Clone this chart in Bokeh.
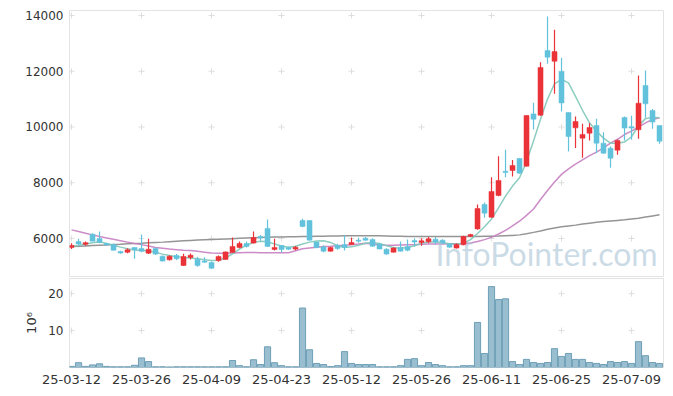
from bokeh.plotting import figure
from bokeh.layouts import column
from bokeh.models import Range1d, FixedTicker, Label, ColumnDataSource
from bokeh.core.properties import value
from bokeh.embed import file_html
from bokeh.resources import INLINE

# ---------------- data ----------------
dates = [
    "25-03-12", "25-03-13", "25-03-14", "25-03-17", "25-03-18", "25-03-19", "25-03-20", "25-03-21",
    "25-03-24", "25-03-25", "25-03-26", "25-03-27", "25-03-28", "25-03-31",
    "25-04-01", "25-04-02", "25-04-03", "25-04-04", "25-04-07", "25-04-08", "25-04-09", "25-04-10",
    "25-04-11", "25-04-14", "25-04-15", "25-04-16", "25-04-17", "25-04-18", "25-04-21", "25-04-22",
    "25-04-23", "25-04-24", "25-04-25", "25-04-28", "25-04-29", "25-04-30",
    "25-05-02", "25-05-07", "25-05-08", "25-05-09", "25-05-12", "25-05-13", "25-05-14", "25-05-15",
    "25-05-16", "25-05-19", "25-05-20", "25-05-21", "25-05-22", "25-05-23", "25-05-26", "25-05-27",
    "25-05-28", "25-05-29", "25-05-30",
    "25-06-02", "25-06-04", "25-06-05", "25-06-09", "25-06-10", "25-06-11", "25-06-12", "25-06-13",
    "25-06-16", "25-06-17", "25-06-18", "25-06-19", "25-06-20", "25-06-23", "25-06-24", "25-06-25",
    "25-06-26", "25-06-27", "25-06-30",
    "25-07-01", "25-07-02", "25-07-03", "25-07-04", "25-07-07", "25-07-08", "25-07-09", "25-07-10",
    "25-07-11", "25-07-14", "25-07-15",
]

open_ = [5680, 5890, 5790, 6150, 6000, 5820, 5785, 5535, 5510, 5680,
         5640, 5475, 5640, 5365, 5235, 5390, 5030, 5320, 5260, 5190,
         5140, 5210, 5250, 5500, 5680, 5820, 5835, 6070, 6360, 5605,
         5750, 5680, 5620, 6645, 6645, 5870, 5700, 5545, 5750, 5775,
         5785, 5940, 6010, 5965, 5800, 5615, 5510, 5680, 5715, 5925,
         5856, 5880, 5975, 5940, 5795, 5655, 5772, 6085, 6345, 7220,
         6765, 7545, 8415, 8440, 8870, 8595, 10470, 10425, 12745, 12360,
         11990, 10520, 9970, 9600, 9780, 10055, 9420, 9240, 9170, 10340,
         10010, 9900, 11490, 10590, 10055]
close = [5750, 5800, 5850, 5905, 5860, 5770, 5580, 5480, 5595, 5595,
         5545, 5615, 5440, 5190, 5365, 5270, 5355, 5400, 5030, 5150,
         4935, 5355, 5520, 5715, 5820, 5715, 6035, 6015, 5715, 5680,
         5605, 5615, 5690, 6430, 5940, 5680, 5545, 5680, 5640, 5680,
         5855, 5905, 5940, 5725, 5620, 5440, 5655, 5545, 5580, 5870,
         5916, 5988, 5870, 5830, 5690, 5785, 6072, 6140, 7075, 6910,
         7685, 8080, 8370, 8620, 8345, 10410, 10280, 12135, 12505, 12705,
         10865, 9660, 10195, 9730, 9980, 9420, 9060, 8880, 9515, 9960,
         9960, 10855, 10830, 10175, 9490]
high = [5830, 5990, 5890, 6190, 6250, 5845, 5810, 5560, 5650, 5690,
        6140, 5990, 5680, 5390, 5400, 5440, 5450, 5460, 5340, 5330,
        5175, 5390, 5530, 6035, 5890, 5890, 6250, 6130, 6680, 5990,
        5770, 5700, 5730, 6705, 6650, 5870, 5750, 5700, 5810, 6130,
        6025, 6025, 6050, 6010, 5820, 5650, 5690, 5890, 5965, 6010,
        6000, 6050, 6050, 5975, 5830, 5820, 6095, 6170, 7220, 7290,
        8200, 8950, 9180, 8820, 8880, 10420, 10870, 12325, 13965, 13485,
        12480, 10520, 10375, 10115, 10135, 10295, 9815, 9300, 9550, 10375,
        10400, 11845, 12025, 10650, 10055]
low = [5620, 5750, 5740, 5900, 5830, 5750, 5570, 5450, 5470, 5270,
       5510, 5440, 5410, 5175, 5210, 5230, 5010, 5250, 4990, 5130,
       4910, 5170, 5240, 5485, 5650, 5680, 5820, 5920, 5700, 5570,
       5510, 5590, 5580, 6405, 5930, 5650, 5510, 5530, 5600, 5570,
       5785, 5845, 5915, 5700, 5610, 5415, 5500, 5530, 5545, 5710,
       5740, 5830, 5790, 5810, 5665, 5640, 5760, 6050, 6310, 6740,
       6740, 7520, 8200, 8225, 8320, 8580, 9910, 10400, 12265, 11190,
       10555, 9120, 9250, 8895, 9515, 9060, 9040, 8535, 9000, 9515,
       9540, 9575, 10330, 9935, 9395]

# volume, in millions of shares
volume = [0.3, 1.3, 0.3, 0.7, 1.0, 0.3, 0.2, 0.2, 0.2, 0.6,
          2.6, 1.6, 0.2, 0.2, 0.15, 0.2, 0.2, 0.2, 0.2, 0.2,
          0.2, 0.2, 0.2, 1.9, 0.5, 0.2, 2.1, 0.8, 5.6, 1.3,
          0.5, 0.2, 0.2, 16.1, 4.8, 1.1, 0.8, 0.25, 0.5, 4.3,
          1.1, 0.8, 0.8, 0.8, 0.2, 0.2, 0.2, 0.5, 2.2, 2.4,
          0.5, 1.35, 0.8, 0.5, 0.2, 0.2, 0.5, 0.5, 12.2, 3.8,
          21.9, 18.4, 18.6, 1.6, 0.8, 2.2, 1.35, 1.1, 1.35, 5.1,
          3.0, 3.8, 2.2, 2.2, 1.35, 1.1, 0.8, 1.6, 1.35, 1.6,
          1.1, 7.0, 3.2, 1.35, 1.1]

ma5 = [5710, 5750, 5800, 5850, 5880, 5820, 5760, 5690, 5630, 5590,
       5570, 5550, 5510, 5440, 5390, 5350, 5320, 5300, 5270, 5240,
       5210, 5220, 5300, 5450, 5620, 5760, 5860, 5900, 5880, 5800,
       5730, 5690, 5720, 5800, 5870, 5910, 5920, 5860, 5740, 5680,
       5700, 5760, 5830, 5860, 5820, 5740, 5680, 5650, 5680, 5740,
       5830, 5870, 5880, 5850, 5810, 5790, 5830, 5960, 6180, 6420,
       6700, 7100, 7520, 7880, 8180, 8750, 9500, 10280, 11000, 11550,
       11710, 11580, 11100, 10600, 10150, 9850, 9600, 9420, 9420, 9460,
       9650, 10050, 10300, 10350, 10330]
ma20 = [6310, 6250, 6190, 6130, 6070, 6020, 5970, 5920, 5870, 5820,
        5780, 5730, 5680, 5650, 5620, 5600, 5580, 5570, 5540, 5510,
        5480, 5470, 5470, 5480, 5490, 5500, 5500, 5490, 5490, 5490,
        5490, 5490, 5560, 5630, 5660, 5690, 5710, 5720, 5740, 5760,
        5780, 5800, 5830, 5800, 5770, 5760, 5760, 5770, 5780, 5780,
        5790, 5800, 5800, 5805, 5810, 5815, 5820, 5840, 5890, 5960,
        6040, 6160, 6290, 6450, 6620, 6830, 7060, 7400, 7720, 8030,
        8300, 8500, 8670, 8820, 8970, 9100, 9250, 9420, 9560, 9730,
        9850, 10000, 10150, 10270, 10330]
ma60 = [5710, 5720, 5735, 5750, 5760, 5770, 5785, 5795, 5810, 5820,
        5830, 5845, 5860, 5870, 5885, 5900, 5915, 5930, 5945, 5955,
        5965, 5975, 5985, 5995, 6005, 6015, 6025, 6035, 6045, 6050,
        6055, 6060, 6065, 6070, 6075, 6080, 6085, 6090, 6090, 6095,
        6095, 6100, 6100, 6100, 6095, 6090, 6085, 6080, 6075, 6075,
        6075, 6070, 6070, 6070, 6070, 6070, 6070, 6070, 6075, 6080,
        6085, 6090, 6100, 6110, 6130, 6170, 6220, 6270, 6330, 6380,
        6420, 6450, 6480, 6520, 6550, 6580, 6610, 6630, 6650, 6670,
        6700, 6730, 6770, 6810, 6850]

price_ticks = [6000, 8000, 10000, 12000, 14000]
volume_ticks = [10, 20]
date_tick_idx = [0, 10, 20, 30, 40, 50, 60, 70, 80]

# ---------------- styling ----------------
UP = "#ea3338"
DOWN = "#62c2dc"
FONT = "DejaVu Sans"
LABEL_COLOR = "#333333"
OUTLINE = "#e3e3e3"
CROSS = "#dedede"

n = len(close)
xs = list(range(n))
colors = [UP if c >= o else DOWN for o, c in zip(open_, close)]
src = ColumnDataSource(dict(
    x=xs, open=open_, close=close, high=high, low=low,
    top=[max(o, c) for o, c in zip(open_, close)],
    bottom=[min(o, c) for o, c in zip(open_, close)],
    color=colors, volume=volume, ma5=ma5, ma20=ma20, ma60=ma60,
))

x_range = Range1d(-0.29, 84.57)

p = figure(width=673, height=277, x_range=x_range, y_range=Range1d(4601, 14179),
           output_backend="svg", toolbar_location=None, x_axis_location=None,
           min_border_left=69, min_border_right=10, min_border_top=10, min_border_bottom=0)
p.xgrid.visible = False
p.ygrid.visible = False
p.outline_line_color = OUTLINE
p.background_fill_color = "white"
p.border_fill_color = "white"

# grid crosses at tick intersections
gx = [i for i in date_tick_idx for _ in price_ticks]
gy = [v for _ in date_tick_idx for v in price_ticks]
p.scatter(gx, gy, marker="cross", size=6, line_color=CROSS, line_width=1)

wm = Label(x=52.0, y=6150, text="InfoPointer.com", text_font="Lato", text_font_size="32px",
           text_color="#a9c4d6", text_alpha=0.6, text_baseline="top")
p.add_layout(wm)

p.line("x", "ma60", source=src, line_color="#8a8a8a", line_width=1.5, line_alpha=0.9)
p.line("x", "ma20", source=src, line_color="#c77fc1", line_width=1.5, line_alpha=0.9)
p.line("x", "ma5", source=src, line_color="#7fc8b9", line_width=1.5, line_alpha=0.9)

p.segment("x", "high", "x", "low", source=src, line_color="color", line_width=1.2)
p.vbar(x="x", width=0.72, top="top", bottom="bottom", source=src,
       fill_color="color", line_color="color", line_width=0.5)

p.yaxis.ticker = FixedTicker(ticks=price_ticks)
p.yaxis.axis_line_color = None
p.yaxis.major_tick_line_color = None
p.yaxis.minor_tick_line_color = None
p.yaxis.major_tick_out = 0
p.yaxis.major_label_standoff = 6
p.yaxis.major_label_text_font = FONT
p.yaxis.major_label_text_font_size = "12px"
p.yaxis.major_label_text_color = LABEL_COLOR

# ---------------- volume panel ----------------
v = figure(width=673, height=119, x_range=x_range, y_range=Range1d(0, 24.1),
           output_backend="svg", toolbar_location=None,
           min_border_left=69, min_border_right=10, min_border_top=1, min_border_bottom=29)
v.xgrid.visible = False
v.ygrid.visible = False
v.outline_line_color = OUTLINE
vgx = [i for i in date_tick_idx for _ in volume_ticks]
vgy = [t for _ in date_tick_idx for t in volume_ticks]
v.scatter(vgx, vgy, marker="cross", size=6, line_color=CROSS, line_width=1)
v.vbar(x="x", width=0.88, top="volume", bottom=0, source=src,
       fill_color="#93bace", fill_alpha=0.95, line_color="#6e9fb6", line_width=1)

v.yaxis.ticker = FixedTicker(ticks=volume_ticks)
v.yaxis.axis_label = "10\u2076"
v.yaxis.axis_label_text_font = FONT
v.yaxis.axis_label_text_font_style = "normal"
v.yaxis.axis_label_text_font_size = "13px"
v.yaxis.axis_label_text_color = LABEL_COLOR
v.yaxis.axis_label_standoff = 6
v.yaxis.axis_line_color = None
v.yaxis.major_tick_line_color = None
v.yaxis.minor_tick_line_color = None
v.yaxis.major_tick_out = 0
v.yaxis.major_label_standoff = 6
v.yaxis.major_label_text_font = FONT
v.yaxis.major_label_text_font_size = "12px"
v.yaxis.major_label_text_color = LABEL_COLOR

v.xaxis.ticker = FixedTicker(ticks=date_tick_idx)
v.xaxis.major_label_overrides = {i: dates[i] for i in date_tick_idx}
v.xaxis.axis_line_color = None
v.xaxis.major_tick_line_color = None
v.xaxis.minor_tick_line_color = None
v.xaxis.major_tick_out = 0
v.xaxis.major_label_standoff = 7
v.xaxis.major_label_text_font = FONT
v.xaxis.major_label_text_font_size = "13px"
v.xaxis.major_label_text_color = LABEL_COLOR

layout = column(p, v, spacing=0)
open("out.html", "w").write(file_html(layout, INLINE))
